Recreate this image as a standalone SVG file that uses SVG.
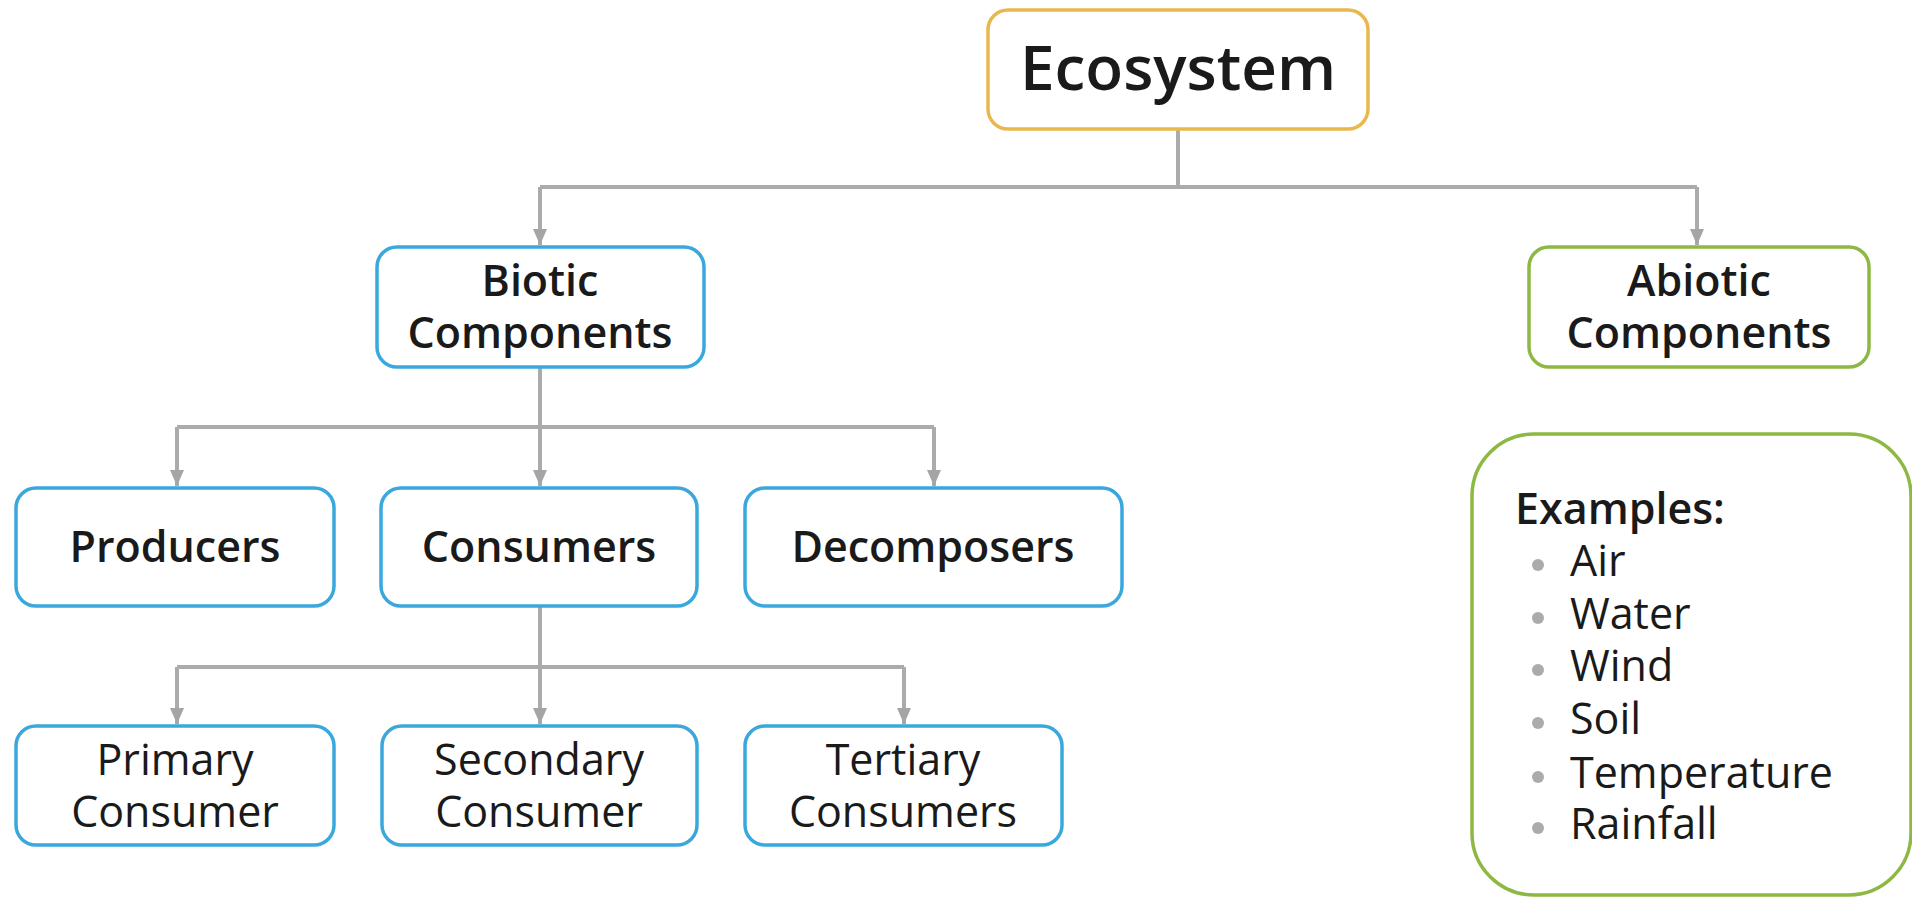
<svg xmlns="http://www.w3.org/2000/svg" width="1912" height="898" viewBox="0 0 1912 898">
<defs>
<style>
.box{fill:#fff;stroke-width:3.5}
.blue{stroke:#3AA8DC}
.green{stroke:#8DB843}
.orange{stroke:#E9B84C}
.t{font-family:"Open Sans","Noto Sans","Liberation Sans",sans-serif;fill:#1a1a1a;text-anchor:middle}
.b{font-weight:600;font-size:43px}
.r{font-weight:400;font-size:43px}
.conn{fill:none;stroke:#ABABAB;stroke-width:4}
.li{font-family:"Open Sans","Noto Sans","Liberation Sans",sans-serif;fill:#1a1a1a;font-size:43px}
</style>
<marker id="arr" markerUnits="userSpaceOnUse" markerWidth="16" markerHeight="16" viewBox="0 0 16 16" refX="16" refY="8" orient="auto">
<path d="M0,1 L16,8 L0,15 Z" fill="#A5A5A5"/>
</marker>
</defs>
<rect width="1912" height="898" fill="#fff"/>
<g id="connectors">
<path class="conn" d="M1178,129 V187"/>
<path class="conn" d="M540,187 H1697"/>
<path class="conn" d="M540,187 V245" marker-end="url(#arr)"/>
<path class="conn" d="M1697,187 V245" marker-end="url(#arr)"/>
<path class="conn" d="M540,367 V427"/>
<path class="conn" d="M177,427 H934"/>
<path class="conn" d="M177,427 V486" marker-end="url(#arr)"/>
<path class="conn" d="M540,427 V486" marker-end="url(#arr)"/>
<path class="conn" d="M934,427 V486" marker-end="url(#arr)"/>
<path class="conn" d="M540,606 V667"/>
<path class="conn" d="M177,667 H904"/>
<path class="conn" d="M177,667 V724" marker-end="url(#arr)"/>
<path class="conn" d="M540,667 V724" marker-end="url(#arr)"/>
<path class="conn" d="M904,667 V724" marker-end="url(#arr)"/>
</g>
<g id="ecosystem">
<rect class="box orange" x="988" y="10" width="380" height="119" rx="20"/>
<text class="t" x="1178" y="90" font-size="62" font-weight="600">Ecosystem</text>
</g>
<g id="biotic">
<rect class="box blue" x="377" y="247" width="327" height="120" rx="20"/>
<text class="t b" x="540" y="296">Biotic</text>
<text class="t b" x="540" y="348">Components</text>
</g>
<g id="abiotic">
<rect class="box green" x="1529" y="247" width="340" height="120" rx="20"/>
<text class="t b" x="1699" y="296">Abiotic</text>
<text class="t b" x="1699" y="348">Components</text>
</g>
<g id="producers">
<rect class="box blue" x="16" y="488" width="318" height="118" rx="20"/>
<text class="t b" x="175" y="562">Producers</text>
</g>
<g id="consumers">
<rect class="box blue" x="381" y="488" width="316" height="118" rx="20"/>
<text class="t b" x="539" y="562">Consumers</text>
</g>
<g id="decomposers">
<rect class="box blue" x="745" y="488" width="377" height="118" rx="20"/>
<text class="t b" x="933" y="562">Decomposers</text>
</g>
<g id="primary">
<rect class="box blue" x="16" y="726" width="318" height="119" rx="20"/>
<text class="t r" x="175" y="775">Primary</text>
<text class="t r" x="175" y="827">Consumer</text>
</g>
<g id="secondary">
<rect class="box blue" x="382" y="726" width="315" height="119" rx="20"/>
<text class="t r" x="539" y="775">Secondary</text>
<text class="t r" x="539" y="827">Consumer</text>
</g>
<g id="tertiary">
<rect class="box blue" x="745" y="726" width="317" height="119" rx="20"/>
<text class="t r" x="903" y="775">Tertiary</text>
<text class="t r" x="903" y="827">Consumers</text>
</g>
<g id="examples">
<rect class="box green" x="1472" y="434" width="439" height="461" rx="62"/>
<text class="li" x="1515" y="524" font-weight="600">Examples:</text>
<g fill="#ABABAB">
<circle cx="1538" cy="565" r="6"/>
<circle cx="1538" cy="618" r="6"/>
<circle cx="1538" cy="670" r="6"/>
<circle cx="1538" cy="723" r="6"/>
<circle cx="1538" cy="777" r="6"/>
<circle cx="1538" cy="828" r="6"/>
</g>
<text class="li" x="1570" y="576">Air</text>
<text class="li" x="1570" y="629">Water</text>
<text class="li" x="1570" y="681">Wind</text>
<text class="li" x="1570" y="734">Soil</text>
<text class="li" x="1570" y="788">Temperature</text>
<text class="li" x="1570" y="839">Rainfall</text>
</g>
</svg>
